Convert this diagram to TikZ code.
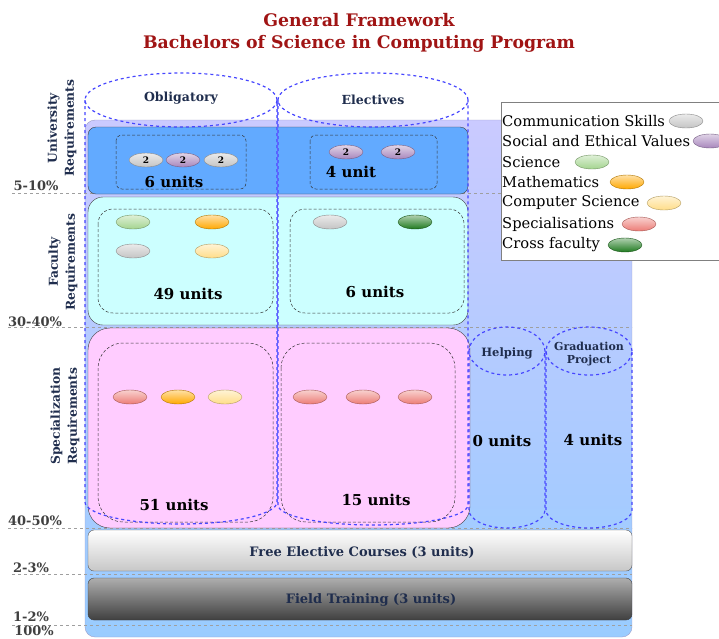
\documentclass[tikz,border=0pt]{standalone}
\usepackage{fontspec}
\setmainfont{DejaVu Serif}
\usetikzlibrary{shapes.geometric}

\definecolor{titlered}{HTML}{A01414}
\definecolor{navy}{HTML}{1F2D4D}
\definecolor{bgtop}{HTML}{CACAFF}
\definecolor{bgbot}{HTML}{99CCFF}
\definecolor{unicol}{HTML}{62AAFF}
\definecolor{faccol}{HTML}{CCFFFF}
\definecolor{specol}{HTML}{FFCCFF}
\definecolor{colblue}{HTML}{4646FF}
\definecolor{ovgray}{HTML}{C4C4C4}
\definecolor{ovpurple}{HTML}{A886BC}
\definecolor{ovgreen}{HTML}{A3D48E}
\definecolor{ovorange}{HTML}{FFA800}
\definecolor{ovyellow}{HTML}{FFDD88}
\definecolor{ovred}{HTML}{EC7C76}
\definecolor{ovdkgreen}{HTML}{1F7A1F}

\tikzset{
	pill/.style={ellipse, draw=#1!70!black, top color=#1!35!white, bottom color=#1, minimum width=34, minimum height=14, inner sep=0pt, font=\fontsize{9}{9}\selectfont\bfseries},
	levelline/.style={dashed, color=gray!75, line width=0.8pt},
	pct/.style={font=\fontsize{13}{13}\selectfont\bfseries, color=black!75},
	side/.style={rotate=90, align=center, font=\fontsize{12.3}{17}\selectfont\bfseries, color=navy},
	units/.style={font=\fontsize{15}{15}\selectfont\bfseries},
	inner/.style={draw=black!80, densely dashed, line width=0.5pt},
	colcyl/.style={draw=colblue, dashed, line width=1.2pt},
	colhead/.style={align=center, font=\fontsize{12.5}{13}\selectfont\bfseries, text=navy},
	legtext/.style={anchor=west, inner sep=0pt, font=\fontsize{14.7}{14.7}\selectfont}
}

\begin{document}
\begin{tikzpicture}[x=1pt, y=-1pt]
	\useasboundingbox (0,0) rectangle (719,638);
	
	\node[font=\fontsize{17.3}{17.3}\selectfont\bfseries, color=titlered] (title1) at (359,20) {General Framework};
	\node[font=\fontsize{17.3}{17.3}\selectfont\bfseries, color=titlered] (title2) at (359,44) {Bachelors of Science in Computing Program};
	
	% background
	\draw[rounded corners=10, draw=blue!30!gray!60, top color=bgtop, bottom color=bgbot] (85,120) rectangle (632,637);
	
	% levels
	\draw[levelline] (12,193) -- (632,193);
	\draw[levelline] (8,327) -- (632,327);
	\draw[levelline] (8,528) -- (632,528);
	\draw[levelline] (12,574) -- (632,574);
	\draw[levelline] (12,625) -- (632,625);
	\node[pct] (p1) at (36,186) {5-10\%};
	\node[pct] (p2) at (35,322) {30-40\%};
	\node[pct] (p3) at (35,521) {40-50\%};
	\node[pct] (p4) at (31,568) {2-3\%};
	\node[pct] (p5) at (31,617) {1-2\%};
	\node[pct] (p6) at (34,631) {100\%};
	
	\node[side] (uni) at (62,128) {University\\Requirements};
	\node[side] (fac) at (63,262) {Faculty\\Requirements};
	\node[side] (spec) at (65,416) {Specialization\\Requirements};
	
	% university
	\draw[rounded corners=8, draw=black!75, fill=unicol] (88,127) rectangle (468,194);
	\draw[inner, rounded corners=6] (116,135) rectangle (246,189);
	\draw[inner, rounded corners=6] (310,135) rectangle (437,189);
	\node[pill=ovgray] (u1) at (146,160) {2};
	\node[pill=ovpurple] (u2) at (183,160) {2};
	\node[pill=ovgray] (u3) at (221,160) {2};
	\node[pill=ovpurple] (u4) at (346,152) {2};
	\node[pill=ovpurple] (u5) at (398,152) {2};
	\node[units] (uoblig) at (174,182) {6 units};
	\node[units] (uelec) at (351,172) {4 unit};
	
	% faculty
	\draw[rounded corners=15, draw=black!75, fill=faccol] (88,197) rectangle (468,325);
	\draw[inner, rounded corners=15] (98,209) rectangle (273,313);
	\draw[inner, rounded corners=15] (290,209) rectangle (464,313);
	\node[pill=ovgreen] (f1) at (133,222) {};
	\node[pill=ovorange] (f2) at (212,222) {};
	\node[pill=ovgray] (f3) at (133,251) {};
	\node[pill=ovyellow] (f4) at (212,251) {};
	\node[pill=ovgray] (f5) at (330,222) {};
	\node[pill=ovdkgreen] (f6) at (415,222) {};
	\node[units] (foblig) at (188,294) {49 units};
	\node[units] (felec) at (375,292) {6 units};
	
	% specialization
	\draw[rounded corners=22, draw=black!75, fill=specol] (88,328) rectangle (470,528);
	\draw[inner, rounded corners=25] (98,343) rectangle (273,522);
	\draw[inner, rounded corners=25] (281,343) rectangle (455,522);
	\node[pill=ovred] (s1) at (130,397) {};
	\node[pill=ovorange] (s2) at (178,397) {};
	\node[pill=ovyellow] (s3) at (225,397) {};
	\node[pill=ovred] (s4) at (310,397) {};
	\node[pill=ovred] (s5) at (363,397) {};
	\node[pill=ovred] (s6) at (415,397) {};
	\node[units] (soblig) at (174,505) {51 units};
	\node[units] (selec) at (376,500) {15 units};
	
	% free electives and training
	\draw[rounded corners=6, draw=black!65, top color=white, bottom color=black!22] (88,530) rectangle (632,571);
	\node[font=\fontsize{13}{13}\selectfont\bfseries, color=navy] (free) at (362,553) {Free Elective Courses (3 units)};
	\draw[rounded corners=6, draw=black!75, top color=black!32, bottom color=black!75] (88,578) rectangle (632,620);
	\node[font=\fontsize{13}{13}\selectfont\bfseries, color=navy] (field) at (371,600) {Field Training (3 units)};
	
	% columns
	\node[colhead] (oblig) at (181,98) {Obligatory};
	\node[colhead] (elec) at (373,100) {Electives};
	\draw[colcyl] (181,100) ellipse[x radius=96pt, y radius=27pt];
	\draw[colcyl] (373,100) ellipse[x radius=95pt, y radius=27pt];
	\draw[colcyl] (85,100) -- (85,502) arc[start angle=180, end angle=360, x radius=96pt, y radius=22pt] -- (277,100);
	\draw[colcyl] (278,100) -- (278,505) arc[start angle=180, end angle=360, x radius=95pt, y radius=20pt] -- (468,100);
	\draw[color=colblue!85, line width=1.2pt] (277.5,101) -- (277.5,503);
	
	\node[colhead, font=\fontsize{11.5}{12}\selectfont\bfseries] (help) at (507,353) {Helping};
	\node[colhead, font=\fontsize{11}{13}\selectfont\bfseries] (grad) at (589,354) {Graduation\\Project};
	\draw[colcyl] (507,351) ellipse[x radius=38pt, y radius=24pt];
	\draw[colcyl] (589,351) ellipse[x radius=43pt, y radius=24pt];
	\draw[colcyl] (469,351) -- (469,510) arc[start angle=180, end angle=360, x radius=38pt, y radius=18pt] -- (545,351);
	\draw[colcyl] (546,351) -- (546,510) arc[start angle=180, end angle=360, x radius=43pt, y radius=18pt] -- (632,351);
	\node[units] (hunits) at (502,441) {0 units};
	\node[units] (gunits) at (593,440) {4 units};
	
	% legend
	\draw[draw=black!50, line width=1pt, fill=white] (501,102) rectangle (730,260);
	\node[legtext] (l1) at (502,121) {Communication Skills};
	\node[legtext] (l2) at (502,141) {Social and Ethical Values};
	\node[legtext] (l3) at (502,162) {Science};
	\node[legtext] (l4) at (502,182) {Mathematics};
	\node[legtext] (l5) at (502,203) {Computer Science};
	\node[legtext] (l6) at (502,224) {Specialisations};
	\node[legtext] (l7) at (502,245) {Cross faculty};
	\node[pill=ovgray] (o1) at (686,121) {};
	\node[pill=ovpurple] (o2) at (710,141) {};
	\node[pill=ovgreen] (o3) at (592,162) {};
	\node[pill=ovorange] (o4) at (627,182) {};
	\node[pill=ovyellow] (o5) at (664,203) {};
	\node[pill=ovred] (o6) at (639,224) {};
	\node[pill=ovdkgreen] (o7) at (625,245) {};
\end{tikzpicture}
\end{document}
